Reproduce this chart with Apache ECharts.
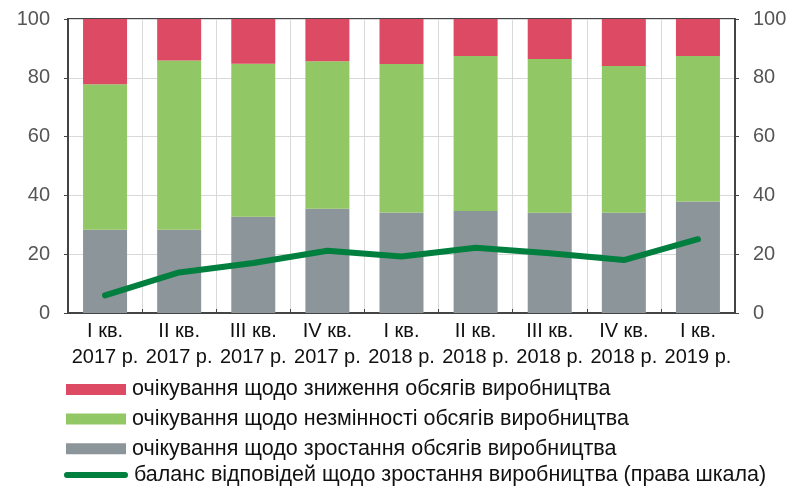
<!DOCTYPE html>
<html><head><meta charset="utf-8">
<script src="https://cdn.jsdelivr.net/npm/echarts@6/dist/echarts.min.js"></script>
<style>html,body{margin:0;padding:0;background:#fff}#c{width:790px;height:486px}</style>
</head><body><div id="c"></div>
<script>
const categories = ['I кв.\n2017 р.','II кв.\n2017 р.','III кв.\n2017 р.','IV кв.\n2017 р.','I кв.\n2018 р.','II кв.\n2018 р.','III кв.\n2018 р.','IV кв.\n2018 р.','I кв.\n2019 р.'];
const growth    = [28.3, 28.3, 32.7, 35.5, 34.2, 34.7, 34.1, 34.1, 37.9];
const unchanged = [49.5, 57.6, 52.1, 50.1, 50.5, 52.7, 52.3, 49.9, 49.5];
const decline   = [22.2, 14.1, 15.2, 14.4, 15.3, 12.6, 13.6, 16.0, 12.6];
const balance   = [6.0, 13.8, 17.0, 21.2, 19.2, 22.2, 20.3, 18.0, 25.1];
const yTicks = {min: 0, max: 100, interval: 20};
const names = ['очікування щодо зниження обсягів виробництва','очікування щодо незмінності обсягів виробництва','очікування щодо зростання обсягів виробництва','баланс відповідей щодо зростання виробництва (права шкала)'];

const font = 'Liberation Sans, Arial, sans-serif';
const chart = echarts.init(document.getElementById('c'), null, {renderer:'canvas'});
const yAxisBase = (pos) => ({
  type:'value', position: pos, min: yTicks.min, max: yTicks.max, interval: yTicks.interval,
  axisLine:{show:true, lineStyle:{color:'#444', width:2}},
  axisTick:{show:true, length:4, lineStyle:{color:'#444', width:1}},
  axisLabel:{color:'#555', fontSize:20, fontFamily:font, margin:18},
  splitLine:{show: pos==='left', lineStyle:{color:'#d9d9d9', width:1}}
});
const legText = {color:'#111', fontSize:21.5, fontFamily:font, lineHeight:20, padding:[0,0,0,1]};
chart.setOption({
  animation:false,
  grid:{left:68, right:55, top:19, bottom:173, show:true, borderColor:'#444', borderWidth:2, backgroundColor:'transparent'},
  xAxis:{type:'category', data:categories,
    axisLine:{lineStyle:{color:'#444', width:2}},
    axisTick:{show:true, inside:true, length:4, lineStyle:{color:'#444'}},
    splitLine:{show:true, lineStyle:{color:'#d9d9d9', width:1}},
    axisLabel:{color:'#111', fontSize:20, fontFamily:font, lineHeight:26, margin:5, interval:0}},
  yAxis:[yAxisBase('left'), yAxisBase('right')],
  legend:[
    {orient:'vertical', left:66, top:378.5, padding:0, itemWidth:60, itemHeight:11, itemGap:7.6, icon:'rect',
     textStyle:legText, data:[names[0], names[1], names[2]]},
    {orient:'vertical', left:64, top:464, padding:0, itemWidth:64, itemHeight:6, itemGap:7.6,
     icon:'path://M3,0 L61,0 A3,3 0 0 1 61,6 L3,6 A3,3 0 0 1 3,0 Z',
     textStyle:legText, data:[names[3]]}
  ],
  series:[
    {name:names[2], type:'bar', stack:'s', barWidth:44, data:growth, itemStyle:{color:'#8c959a'}},
    {name:names[1], type:'bar', stack:'s', barWidth:44, data:unchanged, itemStyle:{color:'#92c765'}},
    {name:names[0], type:'bar', stack:'s', barWidth:44, data:decline, itemStyle:{color:'#dc4a63'}},
    {name:names[3], type:'line', yAxisIndex:1, data:balance, symbol:'none', showSymbol:false,
      lineStyle:{color:'#007f3f', width:6, cap:'round', join:'round'}, itemStyle:{color:'#007f3f'}, z:5}
  ]
});
</script></body></html>
